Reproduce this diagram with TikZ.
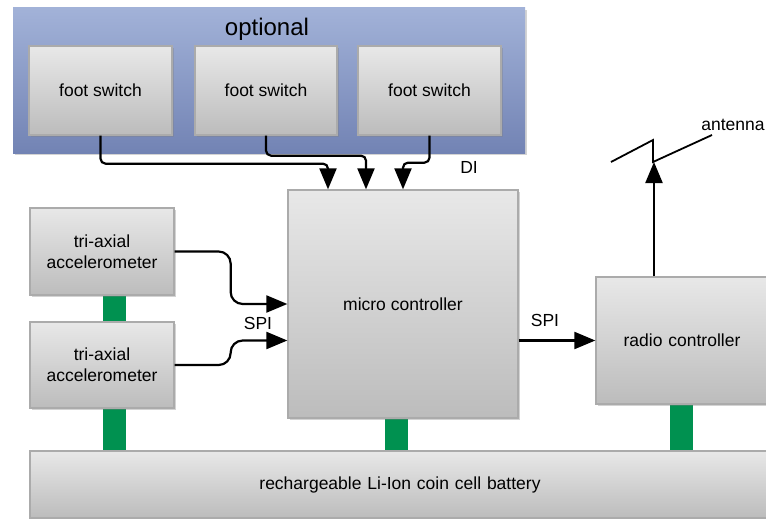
\documentclass[tikz,border=0pt]{standalone}
\usepackage{fontspec}
\setmainfont{Liberation Sans}
\usetikzlibrary{arrows.meta,shadows,backgrounds}
\definecolor{boxtop}{HTML}{E8E8E8}
\definecolor{boxbot}{HTML}{BCBCBC}
\definecolor{boxline}{HTML}{ABABAB}
\definecolor{grptop}{HTML}{A2B2D8}
\definecolor{grpbot}{HTML}{7283B4}
\definecolor{pwr}{HTML}{009150}
\tikzset{
  blk/.style={draw=boxline, line width=1.3pt, top color=boxtop, bottom color=boxbot,
    drop shadow={shadow xshift=1.5pt, shadow yshift=-2pt, opacity=0.35},
    inner sep=0pt, align=center, font=\fontsize{17.5}{21}\selectfont},
  grp/.style={draw=none, top color=grptop, bottom color=grpbot,
    drop shadow={shadow xshift=1.5pt, shadow yshift=-2pt, opacity=0.35}, inner sep=0pt},
  conn/.style={line width=2.2pt, -{Triangle[length=21pt,width=17pt]}},
  lbl/.style={font=\fontsize{17.5}{21}\selectfont, inner sep=0pt},
  pwrbar/.style={fill=pwr, draw=none}
}
\begin{document}
\begin{tikzpicture}[x=1pt,y=-1pt]
\useasboundingbox (0,0) rectangle (766,519);
% optional group
\node[grp, minimum width=512pt, minimum height=145pt] (grp) at (269,80.5) {};
\node[font=\fontsize{24}{28}\selectfont, inner sep=0pt] (opt) at (267,29) {optional};
\node[blk, minimum width=143pt, minimum height=89pt] (fs1) at (100.5,90.5) {foot switch};
\node[blk, minimum width=142pt, minimum height=89pt] (fs2) at (266,90.5) {foot switch};
\node[blk, minimum width=143pt, minimum height=89pt] (fs3) at (429.5,90.5) {foot switch};
% main blocks
\node[blk, minimum width=230pt, minimum height=228pt] (mc) at (403,304) {micro controller};
\node[blk, minimum width=144pt, minimum height=87pt] (a1) at (102,251.5) {tri-axial\\accelerometer};
\node[blk, minimum width=144pt, minimum height=86pt] (a2) at (102,365) {tri-axial\\accelerometer};
\node[blk, minimum width=172pt, minimum height=127pt, text width=172pt] (rc) at (682,340.5) {radio controller};
\node[blk, minimum width=740pt, minimum height=67pt, text width=740pt] (bat) at (400,484.5) {rechargeable Li-Ion coin cell battery};
% power bars
\begin{scope}[on background layer]
\fill[pwrbar] ([xshift=1pt]a1.south) rectangle ([xshift=24pt]a2.north);
\fill[pwrbar] ([xshift=1pt]a2.south) rectangle ([xshift=24pt]a2.south |- bat.north);
\fill[pwrbar] ([xshift=-18pt]mc.south) rectangle ([xshift=5pt]mc.south |- bat.north);
\fill[pwrbar] ([xshift=-12pt]rc.south) rectangle ([xshift=11pt]rc.south |- bat.north);
\end{scope}
% foot switch connectors
\draw[conn, rounded corners=5pt] (fs1.south) -- ++(0,28) -| ([xshift=-75pt]mc.north);
\draw[conn, rounded corners=5pt] (fs2.south) -- ++(0,20) -| ([xshift=-37pt]mc.north);
\draw[conn, rounded corners=5pt] (fs3.south) -- ++(0,27) -| (mc.north);
\node[lbl] (di) at (469,167) {DI};
% accelerometer connectors
\draw[conn, rounded corners=12pt] (a1.east) -- ++(56,0) |- (mc.west);
\draw[conn, rounded corners=12pt] (a2.east) -- ++(56,0) |- (mc.west |- rc.west);
\node[lbl] (spi1) at (258,323) {SPI};
% SPI to radio
\draw[conn] (mc.east |- rc.west) -- (rc.west);
\node[lbl] (spi2) at (545,320) {SPI};
% antenna
\coordinate (zl) at (611,162);
\coordinate (zp) at (653,140);
\coordinate (zb) at (653,162);
\coordinate (zr) at (712,135);
\draw[conn] ([xshift=-28pt]rc.north) -- ([xshift=1pt]zb);
\draw[line width=1.8pt, line join=miter] (zl) -- (zp) -- (zb) -- (zr);
\node[lbl] (antl) at (733,125) {antenna};
\end{tikzpicture}
\end{document}
